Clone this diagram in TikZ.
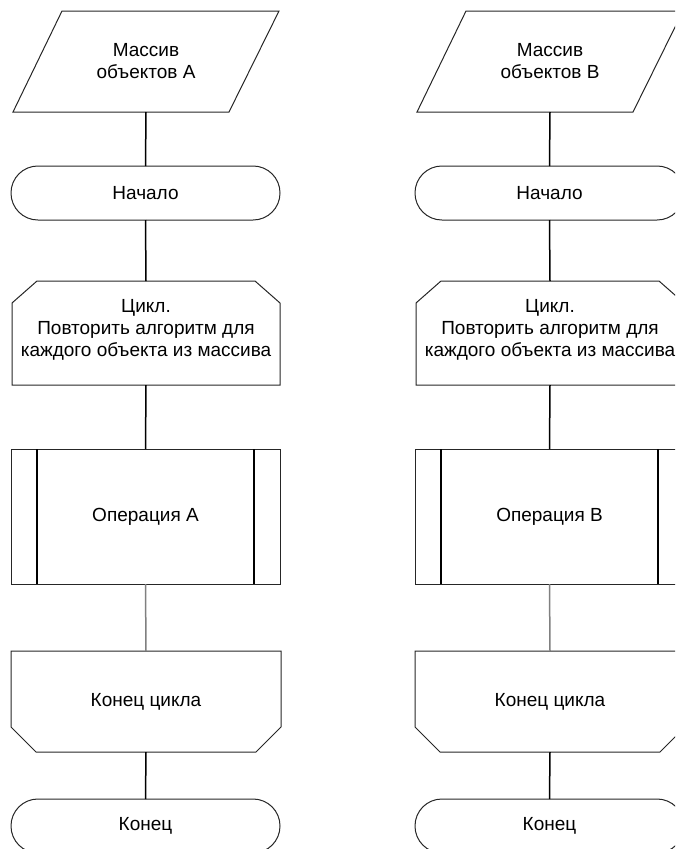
\documentclass[tikz,border=0pt]{standalone}
\usepackage{fontspec}
\setmainfont{Liberation Sans}
\begin{document}
\begin{tikzpicture}[x=1pt,y=-1pt,
  box/.style={inner sep=0pt, outer sep=0pt, align=center, font=\fontsize{19}{22}\selectfont},
  shp/.style={draw=black!85, line width=1pt},
  conn/.style={draw=black, line width=1.5pt},
  connl/.style={draw=black!50, line width=1.5pt}]
\useasboundingbox (0,0) rectangle (675,849);
\clip (0,0) rectangle (675,849);
\foreach \dx/\L/\n in {0/A/l,404/B/r}{
  % input parallelogram
  \node[box, minimum width=266pt, minimum height=101pt] (\n1) at (146+\dx,61.5) {Массив\\объектов \L};
  \draw[shp] ([xshift=49pt]\n1.north west) -- (\n1.north east) -- ([xshift=-50pt]\n1.south east) -- (\n1.south west) -- cycle;
  % start terminal
  \node[box, minimum width=269pt, minimum height=54pt] (\n2) at (145.5+\dx,193) {Начало};
  \draw[shp, rounded corners=26.9pt] (\n2.north west) rectangle (\n2.south east);
  % loop start
  \node[box, minimum width=268pt, minimum height=104pt] (\n3) at (146+\dx,333) {};
  \node[box] (\n3t) at (146+\dx,330) {Цикл.\\Повторить алгоритм для\\каждого объекта из массива};
  \draw[shp] ([xshift=25pt]\n3.north west) -- ([xshift=-25pt]\n3.north east) -- ([yshift=-22pt]\n3.north east) -- (\n3.south east) -- (\n3.south west) -- ([yshift=-22pt]\n3.north west) -- cycle;
  % process
  \node[box, minimum width=269pt, minimum height=135pt] (\n4) at (145.5+\dx,516.5) {Операция \L};
  \draw[shp] (\n4.north west) rectangle (\n4.south east);
  \draw[conn] ([xshift=26pt]\n4.north west) -- ([xshift=26pt]\n4.south west);
  \draw[conn] ([xshift=-26pt]\n4.north east) -- ([xshift=-26pt]\n4.south east);
  % loop end
  \node[box, minimum width=270pt, minimum height=101pt] (\n5) at (146+\dx,701.5) {Конец цикла};
  \draw[shp] (\n5.north west) -- (\n5.north east) -- ([yshift=25pt]\n5.south east) -- ([xshift=-25pt]\n5.south east) -- ([xshift=25pt]\n5.south west) -- ([yshift=25pt]\n5.south west) -- cycle;
  % end terminal
  \node[box, minimum width=269pt, minimum height=54pt] (\n6) at (145.5+\dx,826) {Конец};
  \draw[shp, rounded corners=26.9pt] (\n6.north west) rectangle (\n6.south east);
  % connectors
  \draw[conn] (\n1.south) -- (\n2.north);
  \draw[conn] (\n2.south) -- (\n3.north);
  \draw[conn] (\n3.south) -- (\n4.north);
  \draw[connl] (\n4.south) -- (\n5.north);
  \draw[conn] (\n5.south) -- (\n6.north);
}
\end{tikzpicture}
\end{document}
